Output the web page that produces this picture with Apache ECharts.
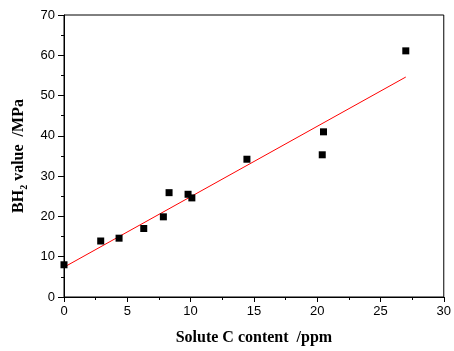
<!DOCTYPE html>
<html>
<head>
<meta charset="utf-8">
<script src="https://cdn.jsdelivr.net/npm/echarts@6/dist/echarts.min.js"></script>
<style>html,body{margin:0;padding:0;background:#fff;}#c{width:454px;height:351px;}</style>
</head>
<body>
<div id="c"></div>
<script>
var xValues = [0, 2.9, 4.35, 6.3, 7.85, 8.3, 9.8, 10.1, 14.45, 20.5, 20.4, 27.0];
var yValues = [8.0, 13.9, 14.6, 17.0, 19.9, 25.9, 25.5, 24.6, 34.2, 41.0, 35.3, 61.1];
var fitX = [0, 27.0];
var fitY = [7.4, 54.6];

var chart = echarts.init(document.getElementById('c'));
var pts = xValues.map(function(x, i){ return [x, yValues[i]]; });
var fit = fitX.map(function(x, i){ return [x, fitY[i]]; });
var tickFont = {fontFamily: 'Liberation Sans', fontSize: 13, color: '#000'};
chart.setOption({
  animation: false,
  grid: {left: 64, right: 9, top: 15, bottom: 52, show: true, borderColor: '#000', borderWidth: 1},
  xAxis: {
    type: 'value', min: 0, max: 30, interval: 5,
    name: 'Solute C content  /ppm', nameLocation: 'middle', nameGap: 33,
    nameTextStyle: {fontFamily: 'Liberation Serif', fontWeight: 'bold', fontSize: 16, color: '#000'},
    axisLine: {lineStyle: {color: '#000', width: 1}},
    axisTick: {length: 5, lineStyle: {color: '#000'}},
    minorTick: {show: true, splitNumber: 2, length: 3, lineStyle: {color: '#000'}},
    axisLabel: Object.assign({margin: 8}, tickFont),
    splitLine: {show: false}
  },
  yAxis: {
    type: 'value', min: 0, max: 70, interval: 10,
    name: '{a|BH}{s|2}{a| value  /MPa}', nameLocation: 'middle', nameGap: 32,
    nameTextStyle: {
      rich: {
        a: {fontFamily: 'Liberation Serif', fontWeight: 'bold', fontSize: 16, color: '#000'},
        s: {fontFamily: 'Liberation Serif', fontWeight: 'bold', fontSize: 10, color: '#000', padding: [12, 0, 0, 0]}
      }
    },
    axisLine: {show: true, lineStyle: {color: '#000', width: 1}},
    axisTick: {show: true, length: 6, lineStyle: {color: '#000'}},
    minorTick: {show: true, splitNumber: 2, length: 3, lineStyle: {color: '#000'}},
    axisLabel: Object.assign({margin: 9}, tickFont),
    splitLine: {show: false}
  },
  series: [
    {type: 'line', data: fit, symbol: 'none', lineStyle: {color: '#ff0000', width: 1}, z: 2},
    {type: 'scatter', data: pts, symbol: 'rect', symbolSize: 7, itemStyle: {color: '#000', opacity: 1}, z: 3}
  ]
});
</script>
</body>
</html>
